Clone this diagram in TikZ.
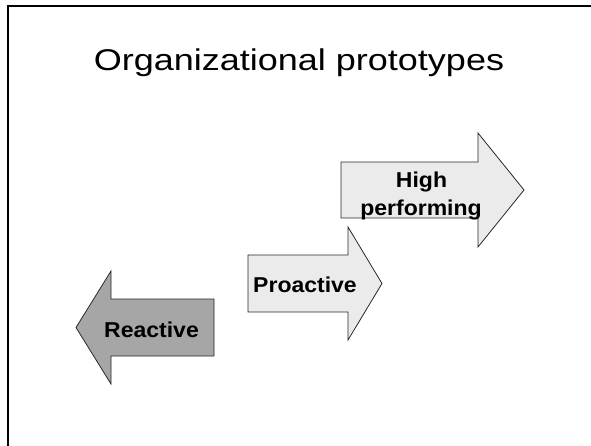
\documentclass[tikz,border=0pt]{standalone}
\usepackage{fontspec}
\setmainfont{Liberation Sans}
\newfontfamily\titlefont[FakeStretch=1.2]{Liberation Sans}
\newfontfamily\labelfont[FakeStretch=1.07]{Liberation Sans}
\definecolor{darkfill}{RGB}{166,166,166}
\definecolor{lightfill}{RGB}{235,235,235}
\definecolor{edge}{RGB}{40,40,40}
\begin{document}
\begin{tikzpicture}[x=1pt,y=-1pt,
  arrowshape/.style={draw=edge,line width=0.8pt,line join=miter},
  title/.style={inner sep=0pt,anchor=base,font=\titlefont\fontsize{30}{36}\selectfont},
  label/.style={inner sep=0pt,anchor=base,font=\labelfont\bfseries\fontsize{21.5}{26}\selectfont}]
\useasboundingbox (0,0) rectangle (591,445);
% slide frame (runs off the right and bottom edges)
\draw[line width=2pt] (8,460) -- (8,6.2) -- (600,6.2);
% title
\node[title] (title) at (299,70) {Organizational prototypes};
% left-pointing arrow
\draw[arrowshape,fill=darkfill]
  (76,327.5) -- (111,271) -- (111,299) -- (214,299) -- (214,356)
  -- (111,356) -- (111,384) -- cycle;
% middle arrow
\draw[arrowshape,fill=lightfill]
  (248,255) -- (348,255) -- (348,227) -- (382,283.5) -- (348,340)
  -- (348,312) -- (248,312) -- cycle;
% upper arrow
\draw[arrowshape,fill=lightfill]
  (341,162) -- (478,162) -- (478,133) -- (524,190) -- (478,247)
  -- (478,218) -- (341,218) -- cycle;
% arrow labels
\node[label] (reactive) at (151.5,337) {Reactive};
\node[label] (proactive) at (305,292) {Proactive};
\node[label] (high) at (421.5,187) {High};
\node[label] (performing) at (421,215) {performing};
\end{tikzpicture}
\end{document}
